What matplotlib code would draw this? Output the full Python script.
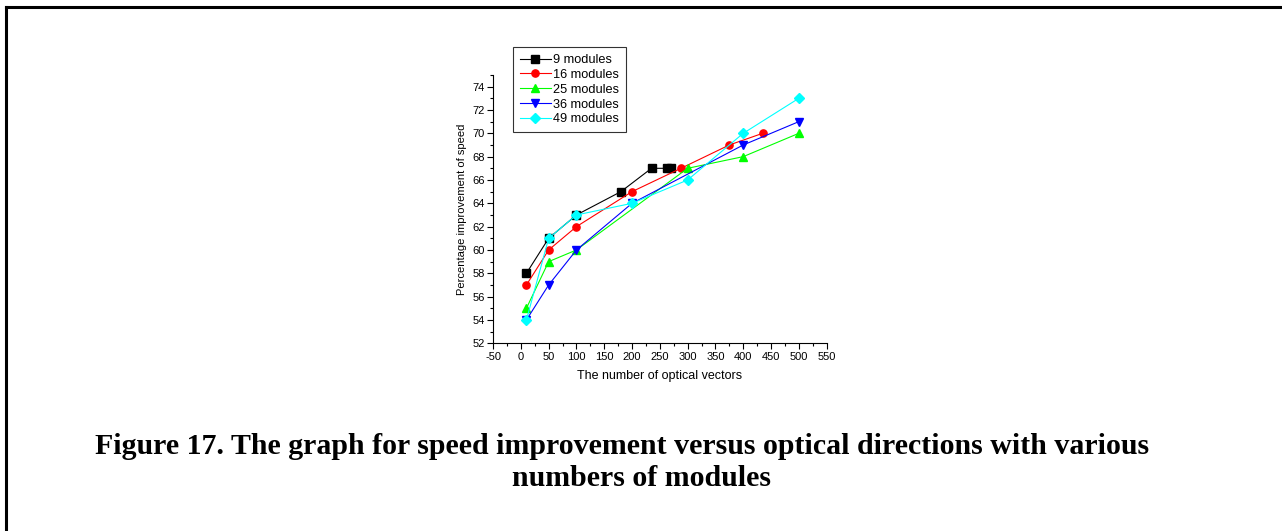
import matplotlib.pyplot as plt
from matplotlib.ticker import MultipleLocator
from matplotlib.lines import Line2D

# data
x_9 = [10, 50, 100, 180, 235, 262, 270]
y_9 = [58, 61, 63, 65, 67, 67, 67]
x_16 = [10, 50, 100, 200, 288, 375, 435]
y_16 = [57, 60, 62, 65, 67, 69, 70]
x_25 = [10, 50, 100, 300, 400, 500]
y_25 = [55, 59, 60, 67, 68, 70]
x_36 = [10, 50, 100, 200, 400, 500]
y_36 = [54, 57, 60, 64, 69, 71]
x_49 = [10, 50, 100, 200, 300, 400, 500]
y_49 = [54, 61, 63, 64, 66, 70, 73]

labels = ["9 modules", "16 modules", "25 modules", "36 modules", "49 modules"]
colors = ["#000000", "#ff0000", "#00ff00", "#0000ff", "#00ffff"]
markers = ["s", "o", "^", "v", "D"]

plt.rcParams['font.family'] = ['Liberation Sans', 'DejaVu Sans']
plt.rcParams['axes.unicode_minus'] = False

fig = plt.figure(figsize=(12.82, 5.31), dpi=100)
ax = fig.add_axes([0.3846, 0.3535, 0.2602, 0.5053])

series = [(x_9, y_9), (x_16, y_16), (x_25, y_25), (x_36, y_36), (x_49, y_49)]
for (xs, ys), lab, c, m in zip(series, labels, colors, markers):
    ms = 4.8 if m == "D" else 5.2
    ax.plot(xs, ys, color=c, marker=m, markersize=ms, linewidth=0.8, label=lab)

ax.set_xlim(-50, 550)
ax.set_ylim(52, 75)
ax.xaxis.set_major_locator(MultipleLocator(50))
ax.xaxis.set_minor_locator(MultipleLocator(25))
ax.yaxis.set_major_locator(MultipleLocator(2))
ax.yaxis.set_minor_locator(MultipleLocator(1))
ax.spines['top'].set_visible(False)
ax.spines['right'].set_visible(False)
ax.tick_params(which='major', direction='out', length=4, width=0.8, labelsize=8, pad=2)
ax.tick_params(which='minor', direction='out', length=2, width=0.8)
ax.set_yticks(range(52, 75, 2))

ax.set_xlabel("The number of optical vectors", fontsize=9, labelpad=6)
ax.set_ylabel("Percentage improvement of speed", fontsize=8, labelpad=4)

leg = ax.legend(loc='upper left', bbox_to_anchor=(0.06, 1.104), fontsize=9.2,
                frameon=True, fancybox=False, edgecolor='black', handlelength=2.4,
                handletextpad=0.15, labelspacing=0.22, borderpad=0.55, borderaxespad=0)
leg.get_frame().set_linewidth(0.8)

fig.text(622 / 1282, 1 - 446 / 531, "Figure 17. The graph for speed improvement versus optical directions with various",
         ha='center', va='center', fontsize=21.5, fontweight='bold', family=['Liberation Serif'])
fig.text(642 / 1282, 1 - 478 / 531, "numbers of modules",
         ha='center', va='center', fontsize=21.5, fontweight='bold', family=['Liberation Serif'])

# page frame (left and top edges)
fig.add_artist(Line2D([6 / 1282, 6 / 1282], [0, 1 - 7 / 531], transform=fig.transFigure, color='black', linewidth=2.2))
fig.add_artist(Line2D([6 / 1282, 1], [1 - 7 / 531, 1 - 7 / 531], transform=fig.transFigure, color='black', linewidth=2.2))

fig.savefig("out.png", dpi=100)
